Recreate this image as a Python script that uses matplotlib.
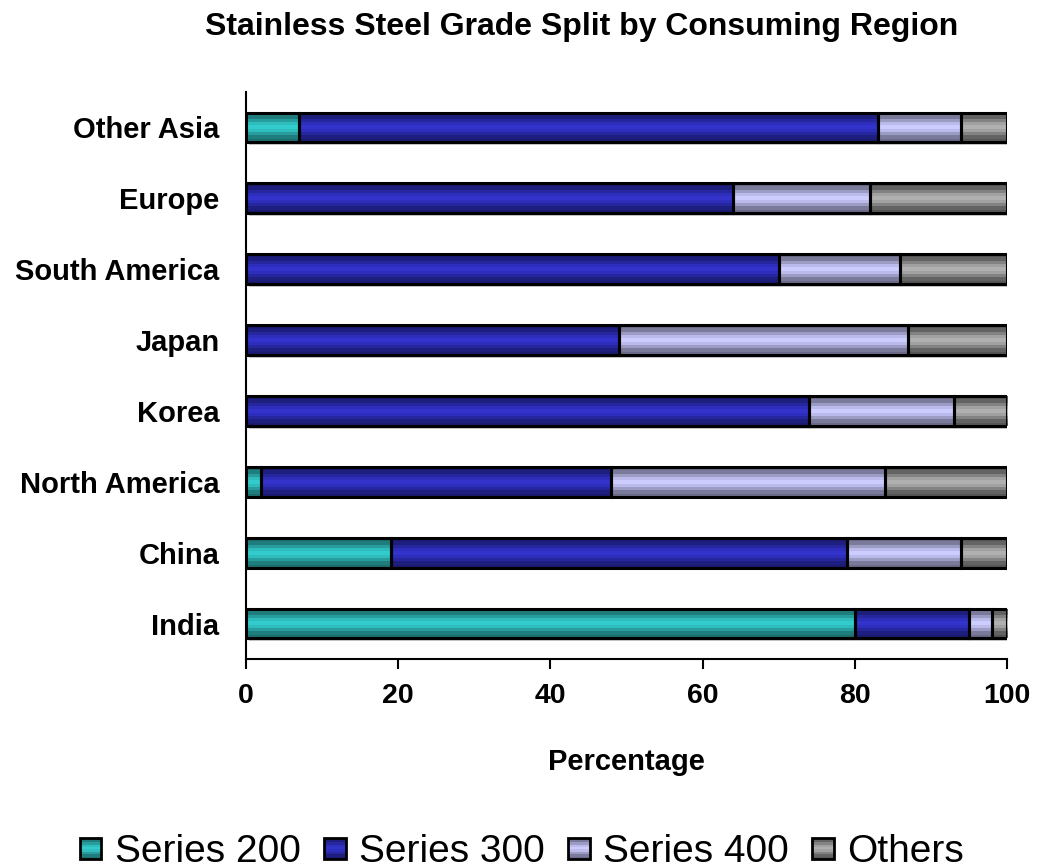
import numpy as np
import matplotlib
matplotlib.use("Agg")
import matplotlib.pyplot as plt
from matplotlib.colors import LinearSegmentedColormap
from matplotlib.patches import Rectangle
from matplotlib.legend_handler import HandlerBase
import matplotlib.patheffects as pe

plt.rcParams['font.family'] = ['Liberation Sans', 'DejaVu Sans']

regions = ["India", "China", "North America", "Korea", "Japan",
           "South America", "Europe", "Other Asia"]
series_names = ["Series 200", "Series 300", "Series 400", "Others"]
s200 = [80, 19, 2, 0, 0, 0, 0, 7]
s300 = [15, 60, 46, 74, 49, 70, 64, 76]
s400 = [3, 15, 36, 19, 38, 16, 18, 11]
others = [2, 6, 16, 7, 13, 14, 18, 6]
xticks = [0, 20, 40, 60, 80, 100]

# (edge colour, centre colour) for the banded fill
shades = [("#1c6e6e", "#33cccc"),
          ("#1a1a70", "#3333cc"),
          ("#6a6a88", "#ccccff"),
          ("#555555", "#b0b0b0")]

# vertical profile: dark at top/bottom edge, bright band in the middle
t = np.linspace(0, 1, 9)
profile = np.clip(1 - np.abs(t - 0.5) * 2.2, 0, 1) ** 0.8
profile = np.round(profile * 6) / 6


def make_cmap(edge, centre):
    return LinearSegmentedColormap.from_list("band", [edge, centre])


class BandHandler(HandlerBase):
    def __init__(self, edge, centre):
        super().__init__()
        self.cmap = make_cmap(edge, centre)

    def create_artists(self, legend, orig_handle, xdescent, ydescent,
                       width, height, fontsize, trans):
        size = min(width, height)
        x0 = -xdescent + (width - size) / 2
        y0 = -ydescent + (height - size) / 2
        arts = []
        n = len(profile)
        for i, v in enumerate(profile):
            r = Rectangle((x0, y0 + size * i / n), size, size / n,
                          facecolor=self.cmap(v), edgecolor="none",
                          transform=trans)
            arts.append(r)
        arts.append(Rectangle((x0, y0), size, size, facecolor="none",
                              edgecolor="black", lw=2, transform=trans))
        return arts


fig = plt.figure(figsize=(10.37, 8.68), dpi=100)
ax = fig.add_axes([246 / 1037, 209 / 868, 761 / 1037, 567 / 868])

y = np.arange(len(regions))
bar_h = 0.42
left = np.zeros(len(regions))
handles = []
for vals, name, (edge, centre) in zip([s200, s300, s400, others],
                                      series_names, shades):
    vals = np.array(vals, dtype=float)
    bars = ax.barh(y, vals, left=left, height=bar_h, color=centre,
                   edgecolor="none", zorder=2)
    cmap = make_cmap(edge, centre)
    img = cmap(profile)[:, None, :]
    for b, v in zip(bars, vals):
        if v <= 0:
            continue
        b.set_path_effects([pe.SimplePatchShadow(offset=(2, -2),
                                                 shadow_rgbFace="#c8c8c8",
                                                 alpha=1.0), pe.Normal()])
        bx, by = b.get_x(), b.get_y()
        im = ax.imshow(img, extent=[bx, bx + v, by, by + bar_h],
                       aspect="auto", interpolation="nearest", zorder=3)
        im.set_clip_path(b)
    ax.barh(y, vals, left=left, height=bar_h, facecolor="none",
            edgecolor="black", lw=2.2, zorder=4)
    handles.append(Rectangle((0, 0), 1, 1, facecolor=centre, label=name))
    left += vals

ax.set_xlim(0, 100)
ax.set_ylim(-0.5, len(regions) - 0.5)
ax.set_xticks(xticks)
ax.set_yticks(y)
ax.set_yticklabels(regions, fontsize=21, fontweight="bold")
ax.tick_params(axis="x", labelsize=20.5, length=7, width=1.5,
               direction="out", pad=10)
for lbl in ax.get_xticklabels():
    lbl.set_fontweight("bold")
ax.tick_params(axis="y", length=0, pad=19)
for s in ["top", "right"]:
    ax.spines[s].set_visible(False)
for s in ["left", "bottom"]:
    ax.spines[s].set_linewidth(1.5)
ax.set_xlabel("Percentage", fontsize=21, fontweight="bold", labelpad=28)

fig.text(582 / 1037, 1 - 27 / 868,
         "Stainless Steel Grade Split by Consuming Region",
         ha="center", va="center", fontsize=23, fontweight="bold")

handler_map = {h: BandHandler(e, c) for h, (e, c) in zip(handles, shades)}
fig.legend(handles=handles, handler_map=handler_map, loc="center",
           bbox_to_anchor=(522 / 1037, 1 - 852 / 868), ncol=4,
           frameon=False, fontsize=28, handlelength=0.55, handleheight=0.55,
           handletextpad=0.35, columnspacing=0.6)

fig.savefig("out.png", dpi=100)
